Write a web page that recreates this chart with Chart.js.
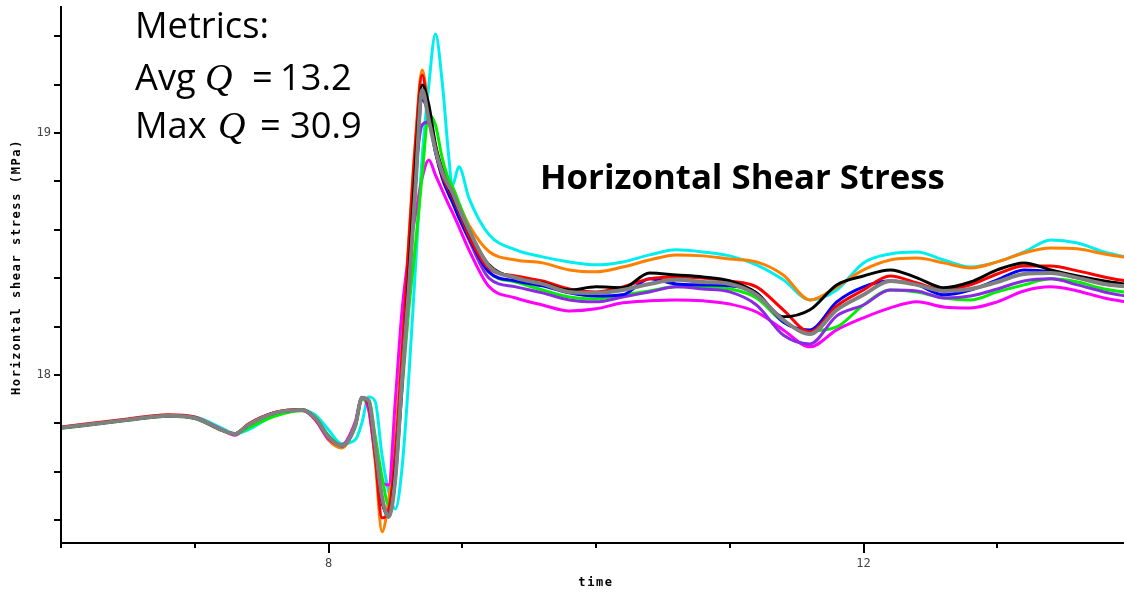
<!DOCTYPE html>
<html>
<head>
<meta charset="utf-8">
<script src="https://cdn.jsdelivr.net/npm/chart.js@4.4.1/dist/chart.umd.min.js"></script>
<style>
  html, body { margin: 0; padding: 0; background: #fff; overflow: hidden; width: 1124px; height: 593px; }
  #wrap { width: 1131px; height: 593px; }
  canvas { display: block; }
</style>
</head>
<body>
<div id="wrap"><canvas id="c" width="1131" height="593"></canvas></div>
<script>
// Time samples (denser around the shear pulse)
const time = [
  6.0, 6.5, 6.8, 7.0, 7.2, 7.3, 7.4, 7.6, 7.8, 7.9,
  8.0, 8.1, 8.2, 8.25, 8.3, 8.35, 8.4, 8.45, 8.5, 8.55,
  8.6, 8.65, 8.7, 8.75, 8.8, 8.85, 8.9, 8.925, 8.975, 9.05,
  9.2, 9.4, 9.6, 9.8, 10.0, 10.2, 10.4, 10.6, 10.8, 11.0,
  11.2, 11.4, 11.6, 11.8, 12.0, 12.2, 12.4, 12.6, 12.8, 13.0,
  13.2, 13.4, 13.6, 13.8, 14.0
];

// Horizontal shear stress (MPa) per run
const runGray = [
  17.781, 17.814, 17.831, 17.822, 17.773, 17.756, 17.793, 17.843, 17.855, 17.822, 17.744, 17.707,
  17.793, 17.905, 17.893, 17.702, 17.496, 17.413, 17.574, 17.979, 18.351, 18.773, 19.178, 19.054, 18.930, 18.839, 18.781, 18.756, 18.690, 18.599,
  18.450, 18.401, 18.376, 18.343, 18.339, 18.351, 18.376, 18.393, 18.384, 18.376, 18.331, 18.227, 18.169, 18.269, 18.331, 18.388, 18.372, 18.347, 18.355, 18.384, 18.417, 18.421, 18.401, 18.376, 18.364
];
const runBlack = [
  17.781, 17.814, 17.831, 17.822, 17.773, 17.756, 17.793, 17.843, 17.855, 17.822, 17.744, 17.707,
  17.793, 17.905, 17.888, 17.690, 17.483, 17.413, 17.607, 17.979, 18.413, 18.868, 19.198, 19.116, 18.950, 18.847, 18.773, 18.744, 18.682, 18.591,
  18.455, 18.401, 18.380, 18.351, 18.364, 18.360, 18.421, 18.413, 18.405, 18.388, 18.339, 18.240, 18.269, 18.372, 18.409, 18.434, 18.401, 18.360, 18.384, 18.434, 18.463, 18.434, 18.409, 18.388, 18.372
];
const runRed = [
  17.785, 17.818, 17.835, 17.826, 17.773, 17.756, 17.797, 17.845, 17.857, 17.818, 17.740, 17.705,
  17.793, 17.905, 17.876, 17.657, 17.409, 17.442, 17.669, 18.083, 18.537, 18.950, 19.240, 19.074, 18.930, 18.826, 18.764, 18.736, 18.674, 18.574,
  18.440, 18.409, 18.388, 18.355, 18.343, 18.364, 18.397, 18.405, 18.401, 18.388, 18.364, 18.269, 18.178, 18.285, 18.351, 18.409, 18.380, 18.351, 18.372, 18.417, 18.450, 18.450, 18.430, 18.405, 18.384
];
const runBlue = [
  17.781, 17.814, 17.831, 17.822, 17.773, 17.756, 17.793, 17.843, 17.855, 17.822, 17.744, 17.707,
  17.793, 17.905, 17.888, 17.690, 17.483, 17.421, 17.574, 17.959, 18.372, 18.785, 19.136, 19.074, 18.921, 18.814, 18.744, 18.715, 18.649, 18.566,
  18.425, 18.388, 18.368, 18.339, 18.326, 18.331, 18.397, 18.376, 18.372, 18.368, 18.339, 18.219, 18.186, 18.302, 18.364, 18.388, 18.372, 18.331, 18.351, 18.393, 18.434, 18.426, 18.401, 18.376, 18.364
];
const runPurple = [
  17.781, 17.814, 17.831, 17.822, 17.773, 17.756, 17.793, 17.843, 17.855, 17.822, 17.744, 17.707,
  17.793, 17.905, 17.884, 17.682, 17.471, 17.434, 17.669, 18.021, 18.434, 18.826, 19.033, 19.045, 18.921, 18.826, 18.756, 18.723, 18.653, 18.558,
  18.400, 18.364, 18.339, 18.310, 18.302, 18.322, 18.343, 18.364, 18.355, 18.343, 18.289, 18.165, 18.128, 18.244, 18.289, 18.351, 18.347, 18.318, 18.326, 18.355, 18.388, 18.397, 18.372, 18.343, 18.322
];
const runGreen = [
  17.779, 17.812, 17.829, 17.820, 17.773, 17.756, 17.781, 17.830, 17.852, 17.826, 17.750, 17.710,
  17.785, 17.897, 17.897, 17.744, 17.579, 17.463, 17.607, 17.938, 18.269, 18.537, 18.826, 19.074, 19.033, 18.897, 18.806, 18.781, 18.711, 18.607,
  18.425, 18.384, 18.351, 18.322, 18.314, 18.331, 18.347, 18.364, 18.364, 18.355, 18.318, 18.219, 18.182, 18.198, 18.289, 18.351, 18.343, 18.318, 18.310, 18.343, 18.372, 18.397, 18.384, 18.355, 18.339
];
const runMagenta = [
  17.781, 17.814, 17.831, 17.822, 17.775, 17.750, 17.795, 17.845, 17.855, 17.815, 17.735, 17.712,
  17.806, 17.905, 17.855, 17.669, 17.558, 17.545, 17.897, 18.269, 18.496, 18.661, 18.814, 18.888, 18.826, 18.764, 18.702, 18.674, 18.612, 18.517,
  18.365, 18.318, 18.289, 18.264, 18.273, 18.298, 18.306, 18.310, 18.306, 18.293, 18.260, 18.186, 18.116, 18.186, 18.236, 18.277, 18.302, 18.281, 18.277, 18.302, 18.347, 18.364, 18.347, 18.318, 18.298
];
const runOrange = [
  17.783, 17.816, 17.833, 17.822, 17.771, 17.756, 17.795, 17.845, 17.857, 17.820, 17.731, 17.698,
  17.793, 17.905, 17.864, 17.636, 17.351, 17.483, 17.740, 18.124, 18.558, 18.971, 19.260, 19.095, 18.950, 18.855, 18.806, 18.777, 18.707, 18.620,
  18.510, 18.475, 18.463, 18.434, 18.426, 18.446, 18.475, 18.496, 18.492, 18.479, 18.467, 18.413, 18.310, 18.364, 18.434, 18.475, 18.483, 18.463, 18.442, 18.467, 18.504, 18.525, 18.521, 18.500, 18.483
];
const runCyan = [
  17.781, 17.814, 17.831, 17.826, 17.781, 17.756, 17.773, 17.835, 17.855, 17.835, 17.773, 17.715,
  17.731, 17.802, 17.909, 17.888, 17.669, 17.517, 17.446, 17.616, 17.988, 18.442, 18.897, 19.198, 19.409, 19.211, 18.897, 18.781, 18.860, 18.731,
  18.580, 18.517, 18.488, 18.467, 18.455, 18.467, 18.496, 18.517, 18.508, 18.492, 18.455, 18.393, 18.310, 18.351, 18.463, 18.500, 18.508, 18.475, 18.446, 18.467, 18.508, 18.558, 18.545, 18.508, 18.483
];

// Axis labels
const xTickLabels = [8, 12];
const yTickLabels = [18, 19];
const xMinorTicks = [6, 7, 8, 9, 10, 11, 12, 13, 14];
const yMinorTicks = [17.4, 17.6, 17.8, 18.0, 18.2, 18.4, 18.6, 18.8, 19.0, 19.2, 19.4];

const xTitle = 'time';
const yTitle = 'Horizontal shear stress (MPa)';
const chartTitle = 'Horizontal Shear Stress';
const metricsHeader = 'Metrics:';
const avgQ = '13.2';
const maxQ = '30.9';

// Runs in drawing order: first entry ends up on top
const runs = [
  { data: runGray, color: '#808080', width: 4 },
  { data: runBlack, color: '#000000', width: 3 },
  { data: runRed, color: '#ff0000', width: 3 },
  { data: runBlue, color: '#0000ff', width: 3 },
  { data: runPurple, color: '#8a2be2', width: 3 },
  { data: runGreen, color: '#00ee00', width: 3 },
  { data: runMagenta, color: '#ff00ff', width: 3 },
  { data: runOrange, color: '#ff8000', width: 3 },
  { data: runCyan, color: '#00eeee', width: 3 }
];

const datasets = runs.map(r => ({
  data: time.map((t, i) => ({ x: t, y: r.data[i] })),
  borderColor: r.color,
  borderWidth: r.width,
  pointRadius: 0,
  fill: false,
  cubicInterpolationMode: 'monotone'
}));

const SANS = '"Open Sans", "Noto Sans", sans-serif';
const MONO = '"DejaVu Sans Mono", monospace';

function fitSize(ctx, text, weight, family, target) {
  ctx.font = `${weight} 100px ${family}`;
  return 100 * target / ctx.measureText(text).width;
}

const decor = {
  id: 'decor',
  afterDraw(chart) {
    const { ctx, chartArea: a, scales: { x, y } } = chart;
    ctx.save();
    // axis lines
    ctx.strokeStyle = '#000';
    ctx.lineWidth = 2;
    ctx.beginPath();
    ctx.moveTo(a.left, a.top);
    ctx.lineTo(a.left, a.bottom);
    ctx.lineTo(a.right, a.bottom);
    ctx.stroke();
    // x tick marks
    xMinorTicks.forEach(t => {
      const px = Math.round(x.getPixelForValue(t));
      const len = xTickLabels.includes(t) ? 10 : 5;
      ctx.beginPath();
      ctx.moveTo(px, a.bottom);
      ctx.lineTo(px, a.bottom + len);
      ctx.stroke();
    });
    // y tick marks
    yMinorTicks.forEach(v => {
      const py = Math.round(y.getPixelForValue(v));
      ctx.beginPath();
      ctx.moveTo(a.left, py);
      ctx.lineTo(a.left - 7, py);
      ctx.stroke();
    });

    // axis titles
    ctx.fillStyle = '#000';
    ctx.font = `bold 12px ${MONO}`;
    ctx.textBaseline = 'middle';
    ctx.textAlign = 'center';
    ctx.letterSpacing = '1.6px';
    ctx.fillText(xTitle, x.getPixelForValue(10), 583);
    ctx.save();
    ctx.translate(17, 267);
    ctx.rotate(-Math.PI / 2);
    ctx.fillText(yTitle, 0, 0);
    ctx.restore();
    ctx.letterSpacing = '0px';

    // chart title
    ctx.textAlign = 'left';
    ctx.textBaseline = 'alphabetic';
    const tSize = fitSize(ctx, chartTitle, 'bold', SANS, 405);
    ctx.font = `bold ${tSize}px ${SANS}`;
    ctx.fillText(chartTitle, 540, 189);

    // metrics block
    const mSize = fitSize(ctx, metricsHeader, 'normal', SANS, 134);
    const body = `normal ${mSize}px ${SANS}`;
    const qFont = `italic ${mSize * 1.05}px "Liberation Serif", serif`;
    ctx.font = body;
    ctx.fillText(metricsHeader, 135, 38);
    ctx.fillText('Avg', 135, 90);
    ctx.fillText('=', 252, 90);
    ctx.fillText(avgQ, 280, 90);
    ctx.fillText('Max', 135, 138);
    ctx.fillText('=', 260, 138);
    ctx.fillText(maxQ, 290, 138);
    ctx.font = qFont;
    ctx.fillText('Q', 205, 90);
    ctx.fillText('Q', 218, 138);
    ctx.restore();
  }
};

// keep the plot area flush with the fixed axis boxes
function noPad(s) {
  s.paddingLeft = 0; s.paddingRight = 0; s.paddingTop = 0; s.paddingBottom = 0;
}

new Chart(document.getElementById('c'), {
  type: 'line',
  data: { datasets },
  plugins: [decor],
  options: {
    responsive: false,
    animation: false,
    events: [],
    layout: { padding: { top: 6, left: 0, right: 0, bottom: 0 } },
    plugins: { legend: { display: false }, tooltip: { enabled: false }, title: { display: false } },
    scales: {
      x: {
        type: 'linear',
        min: 6,
        max: 14,
        grid: { display: false, drawTicks: false },
        border: { display: false },
        afterBuildTicks: s => { s.ticks = xTickLabels.map(v => ({ value: v })); },
        afterFit: s => { s.height = 50; noPad(s); },
        ticks: {
          padding: 14,
          color: '#444',
          autoSkip: false,
          maxRotation: 0,
          font: { family: MONO, size: 12 }
        }
      },
      y: {
        type: 'linear',
        min: 17.305,
        max: 19.525,
        grid: { display: false, drawTicks: false },
        border: { display: false },
        afterBuildTicks: s => { s.ticks = yTickLabels.map(v => ({ value: v })); },
        afterFit: s => { s.width = 61; noPad(s); },
        ticks: {
          padding: 10,
          color: '#444',
          font: { family: MONO, size: 12 }
        }
      }
    }
  }
});
</script>
</body>
</html>
